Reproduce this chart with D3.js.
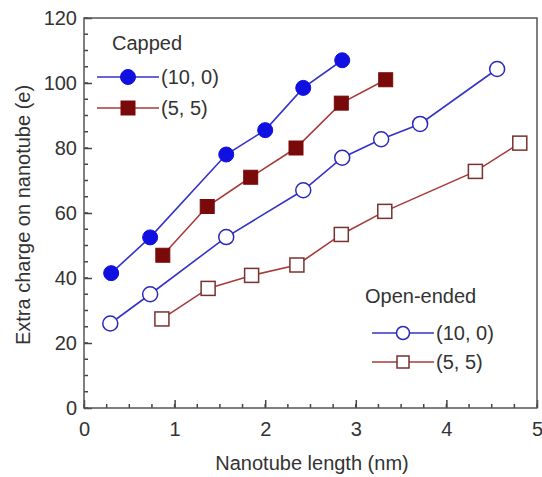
<!DOCTYPE html>
<html>
<head>
<meta charset="utf-8">
<script src="https://cdn.jsdelivr.net/npm/d3@7"></script>
<style>
  body { margin: 0; background: #fff; }
  text { font-family: "Liberation Sans", Arial, sans-serif; fill: #333; }
</style>
</head>
<body>
<svg id="chart" width="542" height="477"></svg>
<script>
// data
var cappedZigzagX = [0.3, 0.73, 1.57, 2.0, 2.42, 2.85];
var cappedZigzagY = [41.5, 52.5, 78, 85.5, 98.5, 107];
var cappedArmchairX = [0.87, 1.36, 1.84, 2.34, 2.84, 3.33];
var cappedArmchairY = [47, 62, 71, 80, 93.8, 101];
var openZigzagX = [0.29, 0.73, 1.57, 2.42, 2.85, 3.28, 3.71, 4.56];
var openZigzagY = [26, 35, 52.6, 67, 77, 82.7, 87.4, 104.3];
var openArmchairX = [0.86, 1.37, 1.85, 2.35, 2.84, 3.32, 4.32, 4.81];
var openArmchairY = [27.4, 36.8, 40.8, 44, 53.4, 60.5, 72.8, 81.5];
var xTicks = [0, 1, 2, 3, 4, 5];
var yTicks = [0, 20, 40, 60, 80, 100, 120];

var svg = d3.select("svg"),
  margin = { top: 18, right: 5, bottom: 69, left: 84 },
  width = 542 - margin.left - margin.right,
  height = 477 - margin.top - margin.bottom;

var x = d3.scaleLinear().domain([0, 5]).range([0, width]);
var y = d3.scaleLinear().domain([0, 120]).range([height, 0]);

var blue = "#1010e0", blueLine = "#3333c8",
  red = "#7a0a0a", redLine = "#a83a3a";

var g = svg.append("g")
  .attr("transform", "translate(" + margin.left + "," + margin.top + ")");

// minor ticks
g.selectAll(".xminor")
  .data(d3.range(0, 5.001, 0.25))
  .enter().append("line")
  .attr("x1", function(d) { return x(d); })
  .attr("x2", function(d) { return x(d); })
  .attr("y1", height).attr("y2", height - 4)
  .attr("stroke", "#444").attr("stroke-width", 1.5);
g.selectAll(".yminor")
  .data(d3.range(0, 120.01, 5))
  .enter().append("line")
  .attr("y1", function(d) { return y(d); })
  .attr("y2", function(d) { return y(d); })
  .attr("x1", 0).attr("x2", 4)
  .attr("stroke", "#444").attr("stroke-width", 1.5);

// axes with inward major ticks
var xAxis = g.append("g")
  .attr("transform", "translate(0," + height + ")")
  .call(d3.axisBottom(x).tickValues(xTicks).tickFormat(d3.format("d"))
    .tickSizeInner(-8).tickSizeOuter(0).tickPadding(14));
var yAxis = g.append("g")
  .call(d3.axisLeft(y).tickValues(yTicks).tickFormat(d3.format("d"))
    .tickSizeInner(-8).tickSizeOuter(0).tickPadding(7));
[xAxis, yAxis].forEach(function(a) {
  a.select(".domain").remove();
  a.selectAll(".tick line").attr("stroke", "#444").attr("stroke-width", 1.5);
  a.selectAll(".tick text").style("font-size", "20px").style("fill", "#333");
});

// frame
g.append("rect")
  .attr("width", width).attr("height", height)
  .attr("fill", "none").attr("stroke", "#555").attr("stroke-width", 1.5);

var line = d3.line()
  .x(function(d) { return x(d[0]); })
  .y(function(d) { return y(d[1]); });

function series(xs, ys, lineColor, markerColor, shape, filled) {
  var pts = d3.zip(xs, ys);
  g.append("path").datum(pts)
    .attr("d", line)
    .attr("fill", "none").attr("stroke", lineColor).attr("stroke-width", 1.6);
  drawMarkers(g, pts.map(function(p) { return [x(p[0]), y(p[1])]; }), markerColor, shape, filled, 7.5);
}

function drawMarkers(sel, pts, color, shape, filled, size) {
  pts.forEach(function(p) {
    if (shape === "circle") {
      sel.append("circle")
        .attr("cx", p[0]).attr("cy", p[1]).attr("r", size)
        .attr("fill", filled ? color : "#fff")
        .attr("stroke", color).attr("stroke-width", filled ? 1 : 1.5);
    } else {
      var s = size - 0.5;
      sel.append("rect")
        .attr("x", p[0] - s).attr("y", p[1] - s)
        .attr("width", 2 * s).attr("height", 2 * s)
        .attr("fill", filled ? color : "#fff")
        .attr("stroke", color).attr("stroke-width", filled ? 1 : 1.5);
    }
  });
}

series(openArmchairX, openArmchairY, redLine, "#7a3030", "square", false);
series(openZigzagX, openZigzagY, blueLine, "#2a2ab8", "circle", false);
series(cappedArmchairX, cappedArmchairY, redLine, red, "square", true);
series(cappedZigzagX, cappedZigzagY, blueLine, blue, "circle", true);

// legends
function legend(title, tx, ty, lx, ly, step, msize, rows) {
  var lg = svg.append("g");
  lg.append("text").attr("x", tx).attr("y", ty)
    .style("font-size", "20px").text(title);
  rows.forEach(function(r, i) {
    var yy = ly + i * step;
    lg.append("line").attr("x1", lx).attr("x2", lx + 62)
      .attr("y1", yy).attr("y2", yy)
      .attr("stroke", r.line).attr("stroke-width", 1.6);
    drawMarkers(lg, [[lx + 31, yy]], r.marker, r.shape, r.filled, msize);
    lg.append("text").attr("x", lx + 64).attr("y", yy + 7)
      .style("font-size", "20px").text(r.label);
  });
}

legend("Capped", 112, 50, 97, 77, 31, 7.5, [
  { label: "(10, 0)", line: blueLine, marker: blue, shape: "circle", filled: true },
  { label: "(5, 5)", line: redLine, marker: red, shape: "square", filled: true }
]);
legend("Open-ended", 365, 303, 372, 333, 29, 6.5, [
  { label: "(10, 0)", line: blueLine, marker: "#2a2ab8", shape: "circle", filled: false },
  { label: "(5, 5)", line: redLine, marker: "#7a3030", shape: "square", filled: false }
]);

// axis titles
svg.append("text")
  .attr("x", 312).attr("y", 470)
  .attr("text-anchor", "middle").style("font-size", "20px")
  .text("Nanotube length (nm)");
svg.append("text")
  .attr("transform", "translate(30,215) rotate(-90)")
  .attr("text-anchor", "middle").style("font-size", "20px")
  .text("Extra charge on nanotube (e)");
</script>
</body>
</html>
